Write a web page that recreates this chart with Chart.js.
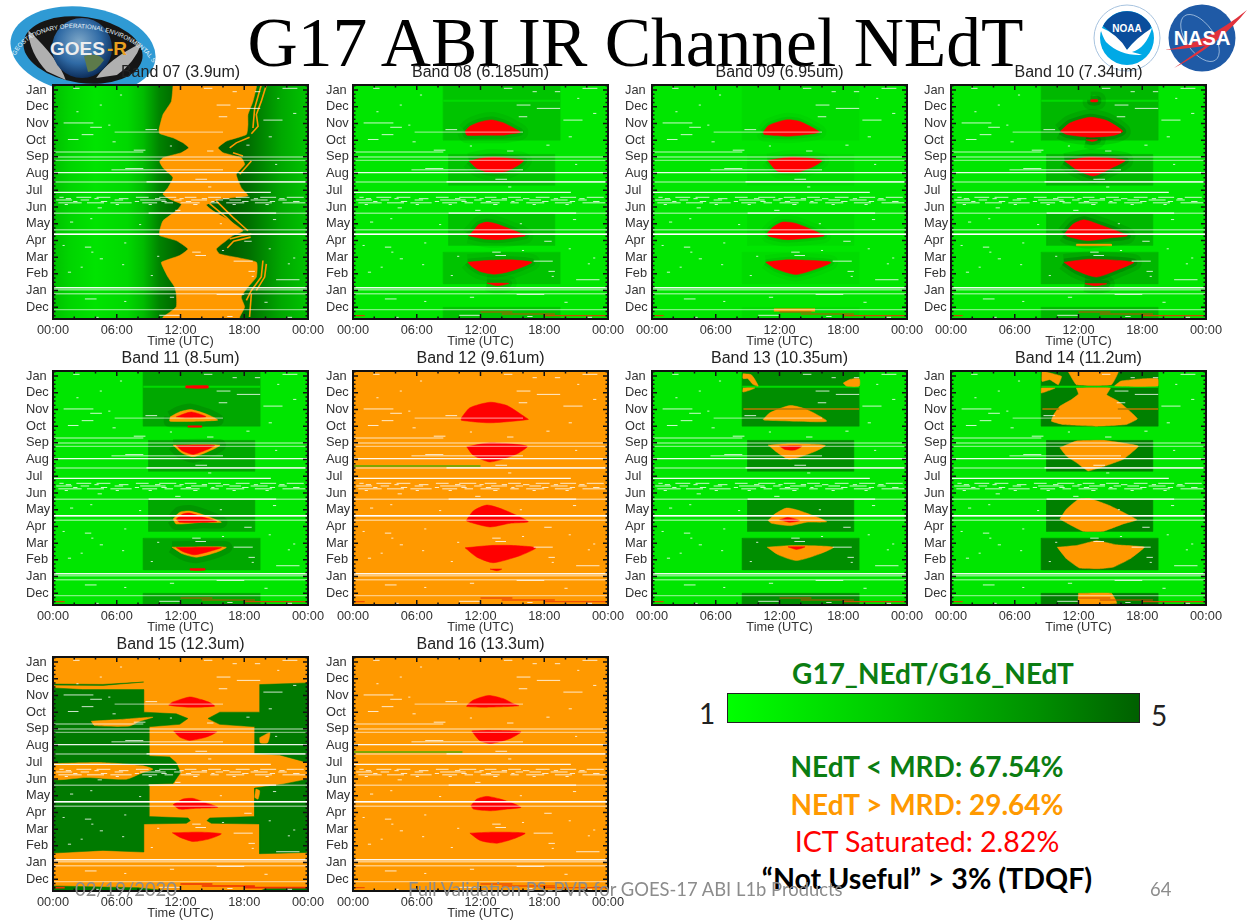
<!DOCTYPE html>
<html lang="en">
<head>
<meta charset="UTF-8">
<title>G17 ABI IR Channel NEdT</title>
<style>
    html, body { margin: 0; padding: 0; background: #fff; }
    #page { position: relative; width: 1247px; height: 924px; overflow: hidden; font-family: Lato, "Open Sans", sans-serif; }
    #page canvas { position: absolute; }
    #page svg { position: absolute; }
    .txt { position: absolute; white-space: nowrap; }
    #mainTitle { left: 0; width: 1271px; text-align: center; top: 4px; font: 69.5px/78px "Liberation Serif", serif; color: #000; }
    #barTitle, .mrd { left: 694px; width: 466px; text-align: center; font-weight: bold; font-size: 28px; line-height: 32px; }
    #barTitle { left: 700px; }
    #colorBar { position: absolute; left: 727px; top: 693px; width: 411px; height: 28px; border: 1px solid #222;
        background: linear-gradient(to right, #00ff00, #00c800 40%, #009000 75%, #006000); }
    .foot { color: #8c8c8c; font-size: 18.4px; line-height: 22px; z-index: 5; }
</style>
<script src="https://cdn.jsdelivr.net/npm/chart.js"></script>
</head>
<body>
<div id="page">
    <svg style="left:0;top:0" width="170" height="105" viewBox="0 0 170 105">
        <defs>
            <radialGradient id="earth" cx="45%" cy="40%" r="60%"><stop offset="0" stop-color="#7fa8c8"/><stop offset=".6" stop-color="#2f6aa5"/><stop offset="1" stop-color="#0d2f5c"/></radialGradient>
            <path id="rim" d="M14 62 A72 43 8 0 1 152 62"/>
        </defs>
        <g transform="rotate(8 83 50)">
            <ellipse cx="83" cy="50" rx="73" ry="43" fill="#2f9ad4"/>
            <ellipse cx="83" cy="50" rx="60" ry="33" fill="#161616"/>
            <path d="M26 38 Q60 62 70 82 L50 76 Q30 60 26 38Z M140 35 Q110 55 100 76 L120 70 Q136 56 140 35Z" fill="#b0b0b0"/>
        </g>
        <circle cx="82" cy="48" r="30" fill="url(#earth)"/>
        <path d="M84 56 Q98 52 104 60 Q96 72 88 72Z" fill="#5d7a4a"/>
        <text x="50" y="55" font-family="Liberation Sans" font-weight="bold" font-size="19" fill="#eee">GOES</text>
        <text x="107" y="55" font-family="Liberation Sans" font-weight="bold" font-size="19" fill="#e8a020">-R</text>
        <text font-family="Liberation Sans" font-size="6.2" fill="#e8f4fa"><textPath href="#rim" startOffset="4%">GEOSTATIONARY OPERATIONAL ENVIRONMENTAL SATELLITE-R SERIES</textPath></text>
    </svg>
    <svg style="left:1090px;top:0" width="157" height="80" viewBox="1090 0 157 80">
        <circle cx="1127" cy="38" r="33" fill="#fff" stroke="#a8c4e0" stroke-width="1"/>
        <circle cx="1127" cy="38" r="27" fill="#00a9e6"/>
        <path d="M1103 26 A27 27 0 0 1 1151 26 L1148 34 Q1136 38 1127 50 Q1116 36 1103 26Z" fill="#0a4d9c"/>
        <path d="M1100 27 Q1118 34 1127 50 Q1136 38 1152 28 Q1146 48 1132 52 Q1140 54 1142 55 Q1120 56 1106 42 Q1102 36 1100 27Z" fill="#fff"/>
        <text x="1127" y="32" text-anchor="middle" font-family="Liberation Sans" font-weight="bold" font-size="10" fill="#fff">NOAA</text>
        <circle cx="1202" cy="38" r="33.5" fill="#1f5aa6"/>
        <ellipse cx="1200" cy="38" rx="14" ry="27" fill="none" stroke="#cfe0f2" stroke-width=".6" transform="rotate(-35 1200 38)"/>
        <path d="M1165 50 Q1205 44 1247 10 Q1220 44 1174 68 Q1200 50 1205 46 Q1185 49 1165 50Z" fill="#e0323c"/>
        <text x="1202" y="45" text-anchor="middle" font-family="Liberation Sans" font-weight="bold" font-size="20" fill="#fff">NASA</text>
    </svg>
    <div id="mainTitle" class="txt">G17 ABI IR Channel NEdT</div>

    <canvas id="band07" width="309" height="290"></canvas>
    <canvas id="band08" width="309" height="290"></canvas>
    <canvas id="band09" width="309" height="290"></canvas>
    <canvas id="band10" width="309" height="290"></canvas>
    <canvas id="band11" width="309" height="290"></canvas>
    <canvas id="band12" width="309" height="290"></canvas>
    <canvas id="band13" width="309" height="290"></canvas>
    <canvas id="band14" width="309" height="290"></canvas>
    <canvas id="band15" width="309" height="290"></canvas>
    <canvas id="band16" width="309" height="290"></canvas>

    <div id="barTitle" class="txt" style="top:657px;color:#0b7d12">G17_NEdT/G16_NEdT</div>
    <div id="colorBar"></div>
    <div class="txt" style="left:699px;top:696px;font-size:28px;line-height:34px;color:#222">1</div>
    <div class="txt" style="left:1151px;top:698px;font-size:28px;line-height:34px;color:#222">5</div>
    <div class="txt mrd" style="top:750px;color:#0b7d12">NEdT &lt; MRD: 67.54%</div>
    <div class="txt mrd" style="top:788px;color:#ff9900">NEdT &gt; MRD: 29.64%</div>
    <div class="txt mrd" style="top:825px;color:#ff0000;font-weight:normal;font-size:28.5px">ICT Saturated: 2.82%</div>
    <div class="txt mrd" style="top:862px;color:#000;font-size:28.6px">“Not Useful” &gt; 3% (TDQF)</div>
    <div class="txt foot" style="left:75px;top:878px">02/19/2020</div>
    <div class="txt foot" style="left:408px;top:878px">Full Validation PS-PVR for GOES-17 ABI L1b Products</div>
    <div class="txt foot" style="left:1150px;top:878px">64</div>
</div>
<script>
    // axis labels, y value 0 is the first December
    const monthLabels = ['Dec', 'Jan', 'Feb', 'Mar', 'Apr', 'May', 'Jun', 'Jul', 'Aug', 'Sep', 'Oct', 'Nov', 'Dec', 'Jan'];
    const hourLabels = ['00:00', '06:00', '12:00', '18:00', '00:00'];
    const yMin = -0.7, yMax = 13.3;

    // boxes where the ratio is raised: [hour from, hour to, month from, month to]
    const darkBoxes = [[8.5, 19.5, 10, 13.3], [9, 19, 7.3, 9.15], [9, 19, 3.7, 5.6], [8.5, 19.5, 1.4, 3.3], [8.5, 19.5, -0.7, 0]];

    // missing data lines: [month, hour from, hour to]
    const paleLines = [[9.29, 0, 8.5], [8.99, 0, 24], [8.79, 0, 24], [8.23, 5.5, 16], [7.5, 0, 24], [5.63, 0, 24], [4.64, 0, 24], [4.37, 0, 24], [1.05, 0, 24], [0.81, 0, 24], [-0.14, 0, 24], [10.48, 5.8, 16]];
    const brightLines = [[8.06, 0, 24], [7.5, 8.8, 24], [6.87, 0, 20.5], [5.63, 9, 21], [1.17, 0, 24]];
    const brightLinesTop = [[4.37, 0, 24]];
    const brightLinesLower = [[4.64, 0, 24]];
    const noiseDashes = [
        [6.58, 0.6, 1], [6.58, 2.2, 3.6], [6.58, 4.1, 5.4], [6.58, 7.8, 9], [6.58, 10, 11.6], [6.58, 12.4, 13.5], [6.58, 14.6, 15.8], [6.58, 17.2, 18.5], [6.58, 19.5, 21], [6.58, 22, 23.6],
        [6.42, 0.3, 1.8], [6.42, 2.6, 3.4], [6.42, 5.8, 6.6], [6.42, 8.2, 10.6], [6.42, 11.4, 12.1], [6.42, 13, 14.5], [6.42, 15.3, 16], [6.42, 16.6, 17.7], [6.42, 18.6, 20.2], [6.42, 21.2, 22],
        [6.25, 0.5, 2.7], [6.25, 3.2, 4.8], [6.25, 5.4, 7.4], [6.25, 8.4, 9.8], [6.25, 10.5, 11.3], [6.25, 12, 13.8], [6.25, 14.8, 15.6], [6.25, 16.3, 18], [6.25, 19, 20.6], [6.25, 21.6, 23.8],
        [6.5, 1.2, 1.7], [6.5, 3.9, 4.3], [6.5, 6.2, 7.1], [6.5, 9.6, 10.1], [6.5, 11.9, 12.3], [6.5, 14, 14.5], [6.5, 16, 16.6], [6.5, 18.9, 19.3], [6.5, 21.3, 21.8],
        [6.33, 1.9, 2.3], [6.33, 4.5, 5.1], [6.33, 7.7, 8.1], [6.33, 10.2, 10.7], [6.33, 12.5, 13], [6.33, 14.9, 15.2], [6.33, 17.8, 18.4], [6.33, 20.4, 20.9], [6.33, 22.6, 23.2],
        [6.15, 1.1, 1.4], [6.15, 5.9, 6.2], [6.15, 9, 9.3], [6.15, 13.2, 13.6], [6.15, 16.9, 17.2], [6.15, 20, 20.3]
    ];
    const speckles = [
        [13.1, 1.9, 2.5], [13.1, 14.2, 15], [13.1, 21.6, 23], [12.9, 16.9, 17.3], [12.9, 19, 19.5], [12.1, 15.4, 16.7], [11.9, 17.3, 19.5], [12.1, 4.4, 4.6],
        [11.4, 15.6, 16.4], [11.2, 19.8, 21.6], [11.03, 1, 3.8], [10.77, 3.5, 4.6], [10.63, 8.7, 9.8], [10.33, 2.7, 3.8], [10.04, 1.4, 2.4], [9.4, 7.6, 8.7], [9.35, 14.5, 15.1],
        [8.3, 6.8, 8.5], [7.66, 13.4, 14.5], [9.7, 18.2, 18.5], [7.2, 14.6, 14.9], [5.95, 4.2, 4.6], [5.8, 11.5, 12], [5.1, 1.6, 1.9], [4.95, 8.1, 8.3],
        [3.95, 18, 18.7], [3.6, 3, 3.6], [3.3, 13.1, 13.9], [3.1, 13.4, 14.4], [3.3, 3.6, 3.8], [2.9, 4.4, 4.7], [2.76, 17, 18.8], [2.15, 18.4, 19], [1.85, 18.7, 18.9],
        [2.4, 2.6, 2.8], [3.5, 20.3, 20.5], [2.6, 22.1, 22.3], [0.5, 3, 4.1], [0.77, 15.4, 18], [1.65, 21, 23.2], [-0.48, 10, 12], [-0.6, 4, 4.3], [-0.55, 16.4, 16.9], [-0.6, 22, 22.5],
        [12.7, 6.3, 6.5], [12.5, 21.1, 21.3], [11.7, 2.2, 2.4], [11.6, 22.6, 22.9], [10.9, 5.2, 5.4], [10.2, 20.3, 20.6], [9.9, 5.6, 5.9], [9.65, 11, 11.2], [8.55, 20.9, 21.1],
        [5.3, 3.5, 3.7], [5.25, 20.7, 21], [5, 15.7, 15.9], [3.85, 6.7, 6.9], [3.7, 0.9, 1.1], [3.4, 15.9, 16.1], [3.05, 9.8, 10], [2.95, 22.6, 22.8], [2.55, 6.5, 6.7], [2.1, 1.4, 1.7], [1.9, 9.2, 9.4], [0.35, 6.7, 6.9], [0.3, 19.9, 20.2], [0.6, 11, 11.4]
    ];
    const burntLines = [[-0.28, 12, 15], [-0.4, 14, 19], [-0.5, 18, 24], [-0.5, 0.2, 1.1]];
    const lightStripe = [[12.36, 8.5, 19.5]];

    // Band 07: edge of the orange area, down the left side then up the right side
    const b07OrangeLeft = [[11.3, 13.3], [11.14, 12.32], [10.35, 11.53], [9.98, 10.63], [10.04, 10.4], [11.29, 10.14], [12.23, 9.84], [12.77, 9.54], [12.08, 9.25], [10.35, 8.95], [10.04, 8.71], [10.35, 8.35], [11.29, 7.76], [10.82, 7.16], [10.35, 6.77], [10.98, 6.47], [12.08, 6.17], [11.6, 5.77], [10.35, 5.18], [10.04, 4.58], [10.04, 4.29], [11.6, 3.99], [12.7, 3.49], [11.92, 3.1], [10.2, 2.7], [10.35, 2.4], [10.82, 1.81], [11.45, 1.21], [11.6, 0.81], [11.6, 0.02], [10.35, -0.58], [10.35, -0.7]];
    const b07OrangeRight = [[17.57, -0.7], [17.57, -0.58], [18.04, 0.02], [17.72, 0.62], [18.35, 1.21], [19.14, 1.81], [19.14, 2.7], [15.69, 3.19], [15.37, 3.49], [16.31, 3.99], [16.94, 4.29], [17.88, 4.58], [16.63, 5.18], [15.06, 5.77], [14.43, 6.13], [15.69, 6.47], [18.35, 6.67], [17.72, 7.16], [17.25, 7.96], [18.04, 8.55], [17.72, 8.95], [16, 9.25], [15.53, 9.54], [16.31, 9.94], [18.2, 10.34], [18.35, 10.93], [18.35, 11.53], [18.82, 12.32], [19.14, 13.15], [19.14, 13.3]];
    const b07Stripes = [
        [[20.08, 13.3], [19.6, 12.32], [19.14, 11.53], [19.3, 10.83], [18.67, 10.38]],
        [[19.6, 13.3], [18.98, 11.92], [18.82, 10.73]],
        [[18.67, 8.75], [17.57, 7.96]],
        [[16.63, 9.54], [17.25, 9.84], [18.5, 10.18]],
        [[16.94, 9.25], [17.88, 9.05]],
        [[15.37, 6.37], [16.94, 5.38], [18.35, 4.58]],
        [[14.43, 6.37], [16.31, 5.38], [17.57, 4.58]],
        [[16.63, 4.09], [17.88, 4.29], [18.67, 4.38]],
        [[16.4, 3.55], [17, 3.95], [18.6, 4.2]],
        [[19.76, 2.8], [19.6, 1.81], [18.67, 1.01], [18.2, 0.42]],
        [[20.08, 2.6], [19.92, 1.81], [19.14, 1.01]],
        [[18.67, 0.81], [18.5, -0.58]],
        [[11.92, 5.87], [12.86, 6.17], [14.43, 5.87]]
    ];
    const b07Gradient = [[0, '#00c000'], [1.5, '#00d400'], [4, '#00e400'], [7, '#00d800'], [8.5, '#00bc00'], [10, '#008400'], [12, '#006000'], [17, '#006000'], [18.5, '#007000'], [20, '#008c00'], [21.5, '#00a800'], [24, '#00c400']];

    const b08Red = [
        [[10.55, 10.54], [11, 10.83], [11.97, 11.09], [13.07, 11.21], [14.18, 11.03], [15.12, 10.73], [15.75, 10.48], [14.96, 10.38], [14.18, 10.3], [12.29, 10.3], [10.71, 10.3]],
        [[10.93, 8.75], [11.97, 8.91], [13.23, 8.99], [14.8, 8.91], [16.07, 8.79], [15.44, 8.45], [14.49, 8.15], [13.55, 8.04], [12.6, 8.1], [11.66, 8.31]],
        [[10.87, 4.29], [11.34, 4.58], [11.81, 4.94], [12.6, 5.1], [13.55, 4.98], [14.8, 4.68], [16.22, 4.29], [15.44, 4.19], [13.86, 4.05], [12.29, 4.09]],
        [[10.8, 2.7], [12.6, 2.8], [14.8, 2.84], [16.85, 2.7], [15.9, 2.4], [14.49, 2.1], [13.23, 1.98], [11.97, 2.14], [11.18, 2.44]],
        [[12.6, 1.45], [14.65, 1.43], [13.55, 1.29]]
    ];
    const b09Red = [
        [[10.46, 10.48], [11, 10.89], [12.6, 11.21], [13.86, 11.13], [15.75, 10.5], [15.1, 10.38], [12.9, 10.24], [10.55, 10.34]],
        [[10.87, 8.79], [13.2, 8.99], [16, 8.79], [15.1, 8.39], [13.55, 8.06], [11.8, 8.15]],
        [[10.8, 4.39], [11.34, 4.78], [12.3, 5.1], [13.55, 5.02], [16.2, 4.29], [14.8, 4.15], [12.6, 4.05], [11, 4.25]],
        [[10.7, 2.7], [12.9, 2.84], [16.85, 2.7], [15.75, 2.36], [13.55, 1.96], [11.66, 2.3]]
    ];
    const b09Orange = [[[11.5, -0.08], [15.3, -0.08], [15.3, -0.24], [11.5, -0.24]]];
    const b10Red = [
        [[10.3, 10.54], [11.2, 11.03], [13.08, 11.37], [14.65, 11.17], [16.16, 10.54], [15.3, 10.28], [13.1, 10.18], [10.9, 10.34]],
        [[10.7, 8.75], [13.1, 8.99], [16.4, 8.79], [15.3, 8.39], [13.4, 7.86], [11.8, 8.25]],
        [[10.67, 4.38], [11.5, 4.98], [12.5, 5.24], [14, 4.94], [16.6, 4.29], [15, 4.15], [12.8, 3.99], [11, 4.23]],
        [[10.63, 2.7], [13.1, 2.88], [17.2, 2.7], [15.9, 2.3], [13.7, 1.81], [11.8, 2.2]],
        [[12.6, 1.41], [14.65, 1.41], [13.6, 1.29]],
        [[13.15, 12.42], [13.8, 12.42], [13.8, 12.3], [13.15, 12.3]],
        [[12.7, 10.02], [13.8, 10.02], [13.3, 9.92]]
    ];
    const b10Orange = [[[11.8, 3.78], [15.1, 3.78], [15.1, 3.68], [11.8, 3.68]]];
    const b11Orange = [
        [[11.04, 10.56], [11.9, 10.85], [13, 10.99], [14.4, 10.73], [15.2, 10.5], [15.5, 10.36], [13.8, 10.3], [11, 10.3]],
        [[11.3, 8.87], [15.7, 8.87], [15.06, 8.61], [13.2, 8.17], [12.1, 8.41]],
        [[11.3, 4.44], [11.9, 4.84], [12.86, 4.92], [14.4, 4.64], [15.84, 4.25], [14.1, 4.25], [11.6, 4.15]],
        [[11.2, 2.76], [16.3, 2.76], [15.4, 2.46], [13.5, 2.16], [12.2, 2.36]]
    ];
    const b11Red = [
        [[11.6, 10.56], [13, 10.85], [14.4, 10.56], [12.5, 10.5]],
        [[11.6, 8.85], [15.2, 8.85], [14.4, 8.57], [13.2, 8.31], [12.2, 8.51]],
        [[11.6, 4.44], [12.2, 4.74], [12.86, 4.8], [14.1, 4.56], [15.4, 4.29], [11.9, 4.25]],
        [[11.6, 2.74], [15.84, 2.74], [14.7, 2.5], [13.3, 2.3], [12.2, 2.5]],
        [[12.5, 12.42], [14.6, 12.42], [14.6, 12.28], [12.5, 12.28]],
        [[12.9, 1.48], [14.3, 1.48], [14.3, 1.38], [12.9, 1.38]],
        [[12.7, 10.02], [14, 10.02], [14, 9.94], [12.7, 9.94]]
    ];
    const b12Red = [
        [[10.2, 10.5], [11, 11.1], [12.9, 11.43], [14.5, 11.23], [16.2, 10.54], [16.5, 10.4], [12.9, 10.2], [10.2, 10.35]],
        [[10.7, 8.77], [12.9, 9], [16.4, 8.8], [15.3, 8.3], [12.9, 7.86], [11.3, 8.27]],
        [[10.65, 4.35], [11.34, 4.94], [12.6, 5.28], [14.18, 5], [16.5, 4.29], [14.8, 4.19], [12.9, 3.97], [11, 4.25]],
        [[10.55, 2.72], [12.9, 2.86], [15.1, 2.86], [17.2, 2.72], [15.75, 2.26], [13.2, 1.83], [11.66, 2.16]],
        [[12.9, 1.45], [14, 1.45], [13.55, 1.35]]
    ];
    const b13Orange = [
        [[10.46, 10.4], [11.1, 10.8], [13, 11.23], [14.55, 11], [16.44, 10.3], [13.6, 10.3], [10.6, 10.36]],
        [[8.57, 13.13], [9.35, 13.07], [10, 12.4], [9.5, 12.5], [9, 12.85], [8.57, 12.85]],
        [[18, 12.58], [18.65, 12.8], [19.5, 12.84], [19.5, 12.4], [18.3, 12.4]],
        [[8.57, 12.28], [9.67, 12.28], [8.57, 12.04]],
        [[10.93, 8.87], [13, 8.95], [16.3, 8.85], [15.2, 8.45], [13, 8.02], [11.9, 8.37]],
        [[10.93, 4.35], [11.56, 4.74], [12.66, 5.1], [13.9, 4.94], [16.44, 4.29], [14.55, 4.25], [13, 4.05], [11.25, 4.19]],
        [[10.84, 2.76], [13.3, 2.86], [17.07, 2.76], [15.8, 2.36], [13.6, 1.96], [11.9, 2.3]]
    ];
    const b13Red = [
        [[12, 8.81], [14.1, 8.81], [13.45, 8.57], [12.5, 8.61]],
        [[12, 4.4], [12.8, 4.54], [13.9, 4.35], [13, 4.25]],
        [[12.8, 2.78], [14.4, 2.78], [13.6, 2.62]]
    ];
    const b13BrownLines = [[11.03, 8.6, 19.5]];
    const b14Orange = [
        [[11, 13.3], [15.75, 13.3], [15.1, 12.48], [11.8, 12.48]],
        [[8.57, 13.3], [10.4, 12.98], [10.1, 12.48], [9.3, 12.78], [8.57, 12.68]],
        [[18.1, 12.84], [19.47, 12.84], [19.47, 12.4], [15.4, 12.4], [16, 12.7]],
        [[8.5, 12.28], [9.8, 12.28], [8.5, 11.98]],
        [[11.8, 12.28], [15, 12.28], [14.65, 11.88], [15.75, 11.49], [16.5, 11.09], [17.55, 10.44], [16.5, 10.1], [13.7, 10], [10.55, 10.1], [9.45, 10.3], [9.67, 10.69], [10.24, 11.19], [11.34, 11.59], [12, 11.92]],
        [[10.24, 8.71], [11.8, 9.11], [14.33, 9.15], [17.64, 8.81], [16.22, 8.02], [14.33, 7.58], [12.9, 7.32], [11.8, 7.82], [10.87, 8.21]],
        [[10.24, 4.44], [10.87, 5.04], [12, 5.63], [13.07, 5.67], [14.96, 5.24], [17.5, 4.4], [16.2, 4.15], [14.33, 3.71], [12.44, 3.71], [11.2, 4.1]],
        [[10, 2.76], [11.8, 2.86], [13.7, 3.15], [15.6, 2.9], [18.2, 2.76], [16.85, 2.06], [15.3, 1.57], [14, 1.47], [12.1, 1.51], [10.87, 2.06]],
        [[12, 0], [15.1, 0], [15.6, -0.6], [12, -0.65]]
    ];
    const b14BrownLines = [[11.03, 15.7, 19.5], [11.03, 8.6, 10.2]];
    const b15Green = [
        [[0, 11.45], [2.8, 11.35], [8.53, 11.35], [8.53, 10], [11.6, 9.9], [12.7, 9.62], [11.92, 9.27], [9.03, 9.13], [9.03, 7.38], [10.98, 7.32], [11.6, 6.98], [12, 6.39], [11.3, 5.73], [9.03, 5.69], [9.03, 3.75], [12.7, 3.67], [12.92, 3.51], [12.55, 3.35], [8.53, 3.31], [8.53, 1.63], [4.7, 1.73], [0, 1.57]],
        [[14.59, 9.62], [15.7, 10], [19.45, 10], [19.45, 11.65], [24, 11.75], [24, 6.98], [21.33, 7.44], [18.98, 7.52], [18.98, 9.13], [15.68, 9.27]],
        [[24, 5.99], [21.65, 5.69], [18.98, 5.46], [18.98, 3.75], [14.74, 3.67], [14.49, 3.51], [14.9, 3.35], [19.45, 3.31], [19.45, 1.53], [24, 1.61]],
        [[0, -0.7], [11, -0.7], [8, -0.5], [0, -0.4]],
        [[19.5, -0.7], [24, -0.7], [24, -0.5], [20, -0.55]],
        [[0, 11.62], [4.7, 11.6], [8.53, 11.8], [4.7, 11.66], [0, 11.68]]
    ];
    const b15Orange = [
        [[0, 6.92], [4.7, 6.98], [8.47, 6.79], [9.4, 6.59], [8.47, 6.39], [6.9, 5.99], [3.14, 6.09], [0, 5.99]],
        [[3.6, 9.46], [6.27, 9.56], [9.41, 9.7], [8.16, 9.46], [7.2, 9.17], [3.92, 9.2]],
        [[19.45, 8.47], [20.4, 8.77], [20.2, 8.17], [19.5, 8.17]],
        [[19.1, 5.4], [19.45, 5.3], [19.3, 4.8], [19, 4.9]]
    ];
    const b15Red = [
        [[11.23, 10.6], [12.86, 10.91], [13.96, 10.75], [14.8, 10.56], [15.2, 10.36], [12.86, 10.3], [10.9, 10.42]],
        [[11.36, 8.87], [15.4, 8.83], [14.43, 8.51], [12.86, 8.31], [11.92, 8.51]],
        [[11.3, 4.46], [12.23, 4.8], [13.2, 4.84], [14.27, 4.6], [15.5, 4.31], [13.5, 4.25], [11.9, 4.2]],
        [[11.23, 2.78], [13.8, 2.82], [15.84, 2.72], [14.74, 2.42], [13.2, 2.26], [11.92, 2.52]]
    ];
    const b16Red = [
        [[10.8, 10.46], [11.34, 10.73], [12.76, 11], [14.18, 10.8], [15.1, 10.5], [15.6, 10.38], [12.6, 10.3], [10.7, 10.34]],
        [[11.18, 8.87], [13, 8.91], [15.8, 8.83], [14.8, 8.43], [13, 8.13], [11.9, 8.31]],
        [[11.1, 4.4], [11.65, 4.8], [12.6, 4.96], [13.86, 4.8], [15, 4.56], [15.8, 4.3], [14.5, 4.2], [13, 4.1], [11.34, 4.2]],
        [[11, 2.76], [13.2, 2.82], [16.2, 2.76], [15.1, 2.42], [13.55, 2.16], [11.97, 2.32]]
    ];
    const b12OliveLines = [[7.62, 0, 12]];
    const b16OliveLines = [[7.62, 0, 10.3]];

    const GREEN = '#00e600', ORANGE = '#ff9900', RED = '#ff0000', DARK = '#007a00';
    const LENS = 0.22;
    const plotLeft = [53, 353, 652, 951];
    const plotTop = [85, 371, 657];

    function toXY(pts) {
        return pts.map(p => ({ x: p[0], y: p[1] }));
    }

    // closed filled area
    function area(pts, color, tension) {
        return {
            data: toXY(pts.concat([pts[0]])), showLine: true, fill: 'shape', tension: tension || 0,
            backgroundColor: color, borderColor: color, borderWidth: 0.5, pointRadius: 0
        };
    }

    function areas(list, color, tension) {
        return list.map(pts => area(pts, color, tension));
    }

    function rect(b, color) {
        return area([[b[0], b[2]], [b[1], b[2]], [b[1], b[3]], [b[0], b[3]]], color);
    }

    // soft dark rim round a red shape
    function halo(list, color, width) {
        return list.map(pts => ({
            data: toXY(pts.concat([pts[0]])), showLine: true, tension: LENS,
            borderColor: color, borderWidth: width, pointRadius: 0, fill: false
        }));
    }

    // several horizontal runs in one dataset, broken by NaN
    function runs(list, color, width) {
        const data = [];
        list.forEach(r => {
            data.push({ x: r[1], y: r[0] }, { x: r[2], y: r[0] }, { x: NaN, y: NaN });
        });
        return { data, showLine: true, borderColor: color, borderWidth: width, pointRadius: 0, fill: false };
    }

    function polylines(list, color, width) {
        return list.map(pts => ({
            data: toXY(pts), showLine: true, borderColor: color, borderWidth: width, pointRadius: 0, fill: false
        }));
    }

    function hourGradient(stops) {
        return c => {
            const x = c.chart.scales.x;
            if (!x || !c.chart.chartArea) return stops[0][1];
            const g = c.chart.ctx.createLinearGradient(x.getPixelForValue(0), 0, x.getPixelForValue(24), 0);
            stops.forEach(s => g.addColorStop(s[0] / 24, s[1]));
            return g;
        };
    }

    function base(color) {
        return area([[0, yMin], [24, yMin], [24, yMax], [0, yMax]], color);
    }

    function boxes(color) {
        return darkBoxes.map(b => rect(b, color));
    }

    function gaps(row) {
        return [
            runs(speckles, 'rgba(255,255,255,0.8)', 1),
            runs(noiseDashes, 'rgba(255,255,255,0.8)', 1),
            runs(paleLines, 'rgba(255,255,255,0.5)', 1.4),
            runs(brightLines, 'rgba(255,255,255,0.92)', 1.3),
            runs(row === 0 ? brightLinesTop : brightLinesLower, '#ffffff', 1.3)
        ];
    }

    const framePlugin = {
        id: 'frame',
        afterDraw(chart) {
            const { ctx, chartArea: a, scales } = chart;
            ctx.save();
            ctx.strokeStyle = '#111';
            ctx.lineWidth = 1.5;
            for (let h = 0; h <= 24; h += 2) {
                const px = scales.x.getPixelForValue(h);
                const len = h % 6 === 0 ? 5 : 2.5;
                ctx.beginPath();
                ctx.moveTo(px, a.bottom); ctx.lineTo(px, a.bottom - len);
                ctx.moveTo(px, a.top); ctx.lineTo(px, a.top + len);
                ctx.stroke();
            }
            for (let m = -0.5; m <= yMax; m += 0.25) {
                const py = scales.y.getPixelForValue(m);
                const len = Number.isInteger(m) ? 5 : 2.5;
                ctx.beginPath();
                ctx.moveTo(a.left, py); ctx.lineTo(a.left + len, py);
                ctx.moveTo(a.right, py); ctx.lineTo(a.right - len, py);
                ctx.stroke();
            }
            ctx.lineWidth = 2;
            ctx.strokeRect(a.left, a.top, a.right - a.left, a.bottom - a.top);
            ctx.restore();
        }
    };

    function drawBand(id, title, col, row, layers) {
        const el = document.getElementById(id);
        el.style.left = (plotLeft[col] - 27) + 'px';
        el.style.top = (plotTop[row] - 26) + 'px';
        const tickFont = { family: '"Liberation Sans", Arial, sans-serif', size: 12.8 };
        new Chart(el, {
            type: 'scatter',
            // Chart.js paints the first dataset last, the layers are listed bottom up
            data: { datasets: layers.flat().reverse() },
            plugins: [framePlugin],
            options: {
                responsive: false,
                animation: false,
                events: [],
                layout: { padding: { left: 0, right: 27, top: 0, bottom: 0 } },
                plugins: {
                    legend: { display: false },
                    tooltip: { enabled: false },
                    title: {
                        display: true, text: title, color: '#222', fullSize: false,
                        font: { family: '"Liberation Sans", Arial, sans-serif', size: 16, weight: 'normal' },
                        padding: { top: 4.4, bottom: 2.4 }
                    }
                },
                scales: {
                    x: {
                        type: 'linear', min: 0, max: 24,
                        afterFit: s => { s.height = 30; },
                        grid: { display: false, drawTicks: false }, border: { display: false },
                        ticks: {
                            stepSize: 6, autoSkip: false, maxRotation: 0, padding: 4, color: '#333', font: tickFont,
                            callback: v => hourLabels[v / 6]
                        },
                        title: { display: true, text: 'Time (UTC)', color: '#333', font: tickFont, padding: 0 }
                    },
                    y: {
                        type: 'linear', min: yMin, max: yMax,
                        afterFit: s => { s.width = 27; },
                        afterBuildTicks: s => { s.ticks = monthLabels.map((m, i) => ({ value: i })); },
                        grid: { display: false, drawTicks: false }, border: { display: false },
                        ticks: {
                            autoSkip: false, crossAlign: 'far', color: '#333', font: tickFont,
                            callback: v => monthLabels[v]
                        }
                    }
                }
            }
        });
    }

    const burnt = () => runs(burntLines, '#c84a00', 1.2);
    const stripe = () => runs(lightStripe, '#00dc00', 2);

    drawBand('band07', 'Band 07 (3.9um)', 0, 0, [
        base(hourGradient(b07Gradient)),
        area(b07OrangeLeft.concat(b07OrangeRight), ORANGE, 0.15),
        polylines(b07Stripes, ORANGE, 1.6),
        gaps(0)
    ]);
    drawBand('band08', 'Band 08 (6.185um)', 1, 0, [
        base(GREEN), boxes('#00c400'), stripe(),
        halo(b08Red, 'rgba(0,110,0,0.1)', 16), halo(b08Red, 'rgba(0,90,0,0.15)', 7),
        areas(b08Red, RED, LENS), burnt(), gaps(0)
    ]);
    drawBand('band09', 'Band 09 (6.95um)', 2, 0, [
        base(GREEN), boxes('#00dc00'),
        halo(b09Red, 'rgba(0,110,0,0.06)', 14), halo(b09Red, 'rgba(0,90,0,0.1)', 6),
        areas(b09Red, RED, LENS), areas(b09Orange, ORANGE), burnt(), gaps(0)
    ]);
    drawBand('band10', 'Band 10 (7.34um)', 3, 0, [
        base(GREEN), boxes('#00b800'), stripe(),
        halo(b10Red, 'rgba(0,80,0,0.14)', 16), halo(b10Red, 'rgba(0,70,0,0.25)', 7),
        areas(b10Red, RED, LENS), areas(b10Orange, ORANGE), burnt(), gaps(0)
    ]);
    drawBand('band11', 'Band 11 (8.5um)', 0, 1, [
        base(GREEN), boxes('#00a800'), stripe(),
        halo(b11Orange, 'rgba(0,70,0,0.18)', 12),
        areas(b11Orange, ORANGE, LENS), areas(b11Red, RED, LENS), burnt(), gaps(1)
    ]);
    drawBand('band12', 'Band 12 (9.61um)', 1, 1, [
        base(ORANGE), areas(b12Red, RED, LENS), runs(b12OliveLines, '#7da600', 2),
        runs(burntLines, '#f05000', 1.4), gaps(1)
    ]);
    drawBand('band13', 'Band 13 (10.35um)', 2, 1, [
        base(GREEN), boxes('#008e00'), stripe(),
        areas(b13Orange, ORANGE, LENS), areas(b13Red, RED, LENS),
        runs(b13BrownLines, '#b87800', 1.4), burnt(), gaps(1)
    ]);
    drawBand('band14', 'Band 14 (11.2um)', 3, 1, [
        base(GREEN), boxes('#008000'), stripe(),
        areas(b14Orange, ORANGE, 0.1),
        runs(b14BrownLines, '#b87800', 1.4), burnt(), gaps(1)
    ]);
    drawBand('band15', 'Band 15 (12.3um)', 0, 2, [
        base(ORANGE), areas(b15Green, DARK), areas(b15Orange, ORANGE, 0.2),
        areas(b15Red, RED, LENS), runs(burntLines, '#f03000', 1.6), gaps(2)
    ]);
    drawBand('band16', 'Band 16 (13.3um)', 1, 2, [
        base(ORANGE), areas(b16Red, RED, LENS), runs(b16OliveLines, '#7da600', 2),
        runs(burntLines, '#f05000', 1.4), gaps(2)
    ]);
</script>
</body>
</html>
